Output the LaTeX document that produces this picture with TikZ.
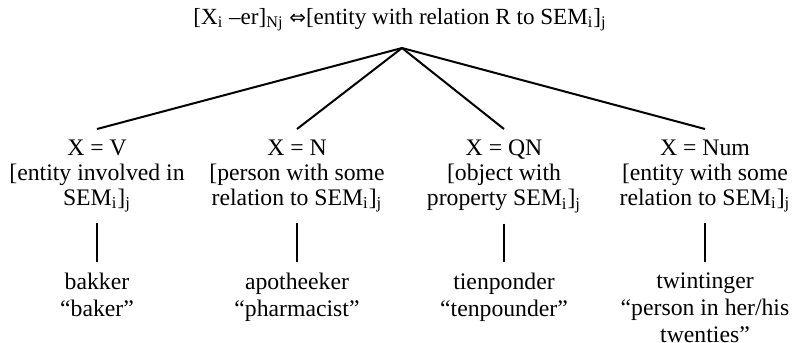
\documentclass[tikz,border=0pt]{standalone}
\usepackage{fontspec}
\setmainfont{Liberation Serif}
\newfontfamily\arrowfont{DejaVu Sans}
\usetikzlibrary{positioning}

\begin{document}
\begin{tikzpicture}[x=0.5bp, y=-0.5bp, line width=1bp,
    every node/.style={font=\fontsize{11.9}{12.5}\selectfont, align=center, inner xsep=0pt, inner ysep=5bp},
    example/.style={anchor=north, font=\fontsize{11.9}{13.5}\selectfont},
    ]
    \useasboundingbox (0,0) rectangle (798,342);

    % Schema on top
    \node[anchor=base, font=\fontsize{11.6}{12.5}\selectfont] (schema) at (400,24) {[X\textsubscript{i} --er]\textsubscript{Nj} {\arrowfont\fontsize{10}{12}\selectfont ⇔}[entity with relation R to SEM\textsubscript{i}]\textsubscript{j}};
    \coordinate (apex) at (402,48);

    % Subschemas
    \node[anchor=north] (verb) at (97,129) {X = V\\{[}entity involved in\\SEM\textsubscript{i}]\textsubscript{j}};
    \node[anchor=north] (noun) at (297,129) {X = N\\{[}person with some\\relation to SEM\textsubscript{i}]\textsubscript{j}};
    \node[anchor=north] (qnoun) at (504,129) {X = QN\\{[}object with\\property SEM\textsubscript{i}]\textsubscript{j}};
    \node[anchor=north] (num) at (705,129) {X = Num\\{[}entity with some\\relation to SEM\textsubscript{i}]\textsubscript{j}};

    % Examples
    \node[example] (bakker) at (97,262) {bakker\\``baker''};
    \node[example] (apotheeker) at (297,262) {apotheeker\\``pharmacist''};
    \node[example] (tienponder) at (504,262) {tienponder\\``tenpounder''};
    \node[example] (twintinger) at (705,262) {twintinger\\``person in her/his\\twenties''};

    % Branches
    \draw (apex) -- (verb.north);
    \draw (apex) -- (noun.north);
    \draw (apex) -- (qnoun.north);
    \draw (apex) -- (num.north);

    \draw (verb.south) -- (bakker.north);
    \draw (noun.south) -- (apotheeker.north);
    \draw (qnoun.south) -- (tienponder.north);
    \draw (num.south) -- (twintinger.north);
\end{tikzpicture}
\end{document}
